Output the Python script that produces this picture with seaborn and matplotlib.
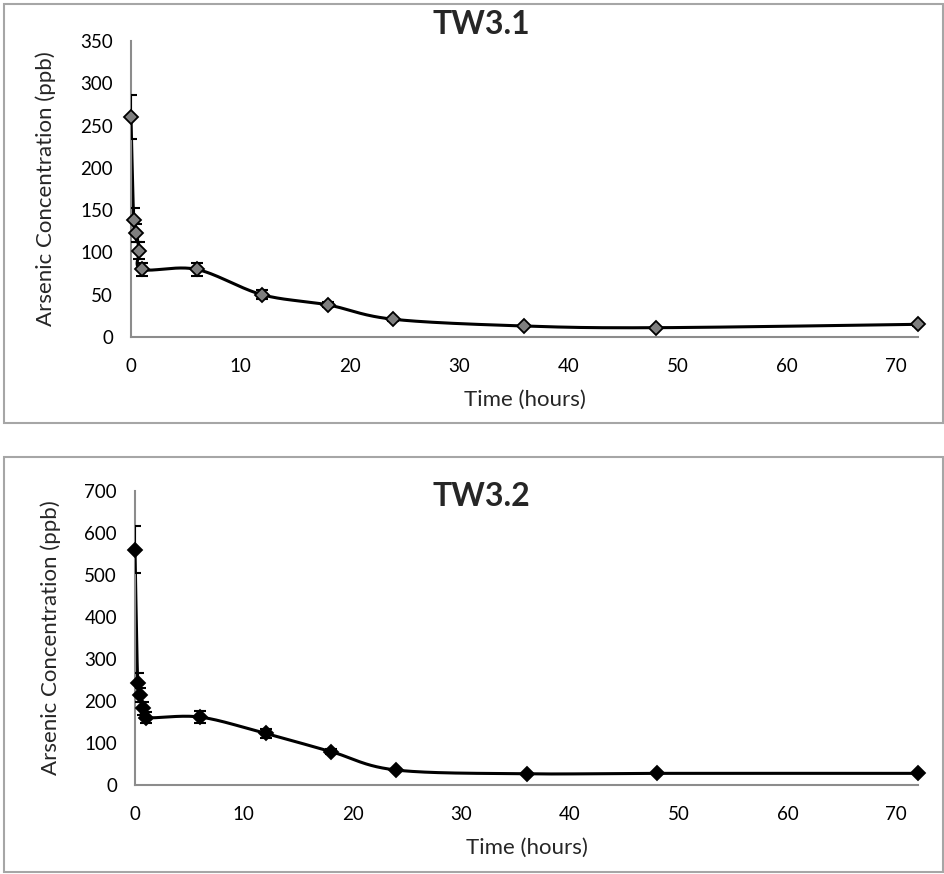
import matplotlib
matplotlib.use("Agg")
import matplotlib.pyplot as plt
import numpy as np
import seaborn as sns
from matplotlib.patches import Rectangle

# sampling times (hours)
hours = [0, 0.25, 0.5, 0.75, 1, 6, 12, 18, 24, 36, 48, 72]

# TW3.1 arsenic (ppb) and error
tw31_conc = [260, 138, 123, 102, 80, 80, 50, 38, 21, 13, 11, 15]
tw31_err = [26, 14, 11, 10, 8, 8, 5, 3, 2, 1.5, 1, 1.5]

# TW3.2 arsenic (ppb) and error
tw32_conc = [560, 241, 214, 182, 160, 161, 122, 79, 35, 26, 27, 27]
tw32_err = [56, 24, 16, 15, 14, 15, 10, 7, 3, 2, 2, 2]

titles = ["TW3.1", "TW3.2"]
y_max = [350, 700]
y_step = [50, 100]
marker_colors = ["#7f7f7f", "#000000"]

sns.set_style("white")
plt.rcParams["font.family"] = ["Lato", "DejaVu Sans"]


def excel_smooth(x, y, sx, sy, n=40):
    # bezier smoothing like a spreadsheet "smoothed line", done in screen-ish units
    p = np.column_stack([np.asarray(x, float) * sx, np.asarray(y, float) * sy])
    ext = np.vstack([p[0], p, p[-1]])
    out = []
    t = np.linspace(0, 1, n)[:, None]
    for i in range(len(p) - 1):
        p0, p1, p2, p3 = ext[i], ext[i + 1], ext[i + 2], ext[i + 3]
        c1 = p1 + (p2 - p0) / 6
        c2 = p2 - (p3 - p1) / 6
        seg = (1 - t) ** 3 * p1 + 3 * (1 - t) ** 2 * t * c1 + 3 * (1 - t) * t ** 2 * c2 + t ** 3 * p2
        out.append(seg if i == 0 else seg[1:])
    out = np.vstack(out)
    return out[:, 0] / sx, out[:, 1] / sy


fig = plt.figure(figsize=(9.45, 8.74), dpi=100)

# panel frames (pixel boxes converted to figure fractions)
W, H = 945, 874
for top, bot in [(4, 423), (457, 872)]:
    fig.add_artist(Rectangle((4 / W, 1 - bot / H), 939 / W, (bot - top) / H,
                             transform=fig.transFigure, fill=False,
                             edgecolor="#a6a6a6", linewidth=1.5))

axes_px = [(131, 918, 41, 337), (135, 918, 490.7, 784.7)]
title_y = [25, 497]
series = [(tw31_conc, tw31_err), (tw32_conc, tw32_err)]

for k, (conc, err) in enumerate(series):
    l, r, t, b = axes_px[k]
    ax = fig.add_axes([l / W, 1 - b / H, (r - l) / W, (b - t) / H])

    xs, ys = excel_smooth(hours, conc, (r - l) / 72, (b - t) / y_max[k])
    sns.lineplot(x=xs, y=ys, ax=ax, sort=False, estimator=None,
                 color="black", linewidth=2.2, zorder=2)
    ax.errorbar(hours, conc, yerr=err, fmt="none", ecolor="black",
                elinewidth=1.5, capsize=4.5, capthick=1.5, zorder=3)
    ax.plot(hours, conc, linestyle="none", marker="D", markersize=7.5,
            markerfacecolor=marker_colors[k], markeredgecolor="black",
            markeredgewidth=1.3, zorder=4, clip_on=False)

    ax.set_xlim(0, 72)
    ax.set_ylim(0, y_max[k])
    ax.set_xticks(np.arange(0, 71, 10))
    ax.set_yticks(np.arange(0, y_max[k] + 1, y_step[k]))
    for side in ["top", "right"]:
        ax.spines[side].set_visible(False)
    for side in ["left", "bottom"]:
        ax.spines[side].set_color("#8c8c8c")
        ax.spines[side].set_linewidth(1.5)
    ax.tick_params(axis="both", direction="out", length=6, width=1.3,
                   color="#8c8c8c", labelsize=13.5, labelcolor="black")
    ax.tick_params(axis="x", pad=9)
    ax.tick_params(axis="y", pad=7)
    ax.set_xlabel("Time (hours)", fontsize=16, labelpad=11)
    ax.set_ylabel("Arsenic Concentration (ppb)", fontsize=16, labelpad=17)
    fig.text(481 / W, 1 - title_y[k] / H, titles[k], ha="center",
             va="center", fontsize=23, fontweight="bold")

fig.savefig("out.png", dpi=100)
